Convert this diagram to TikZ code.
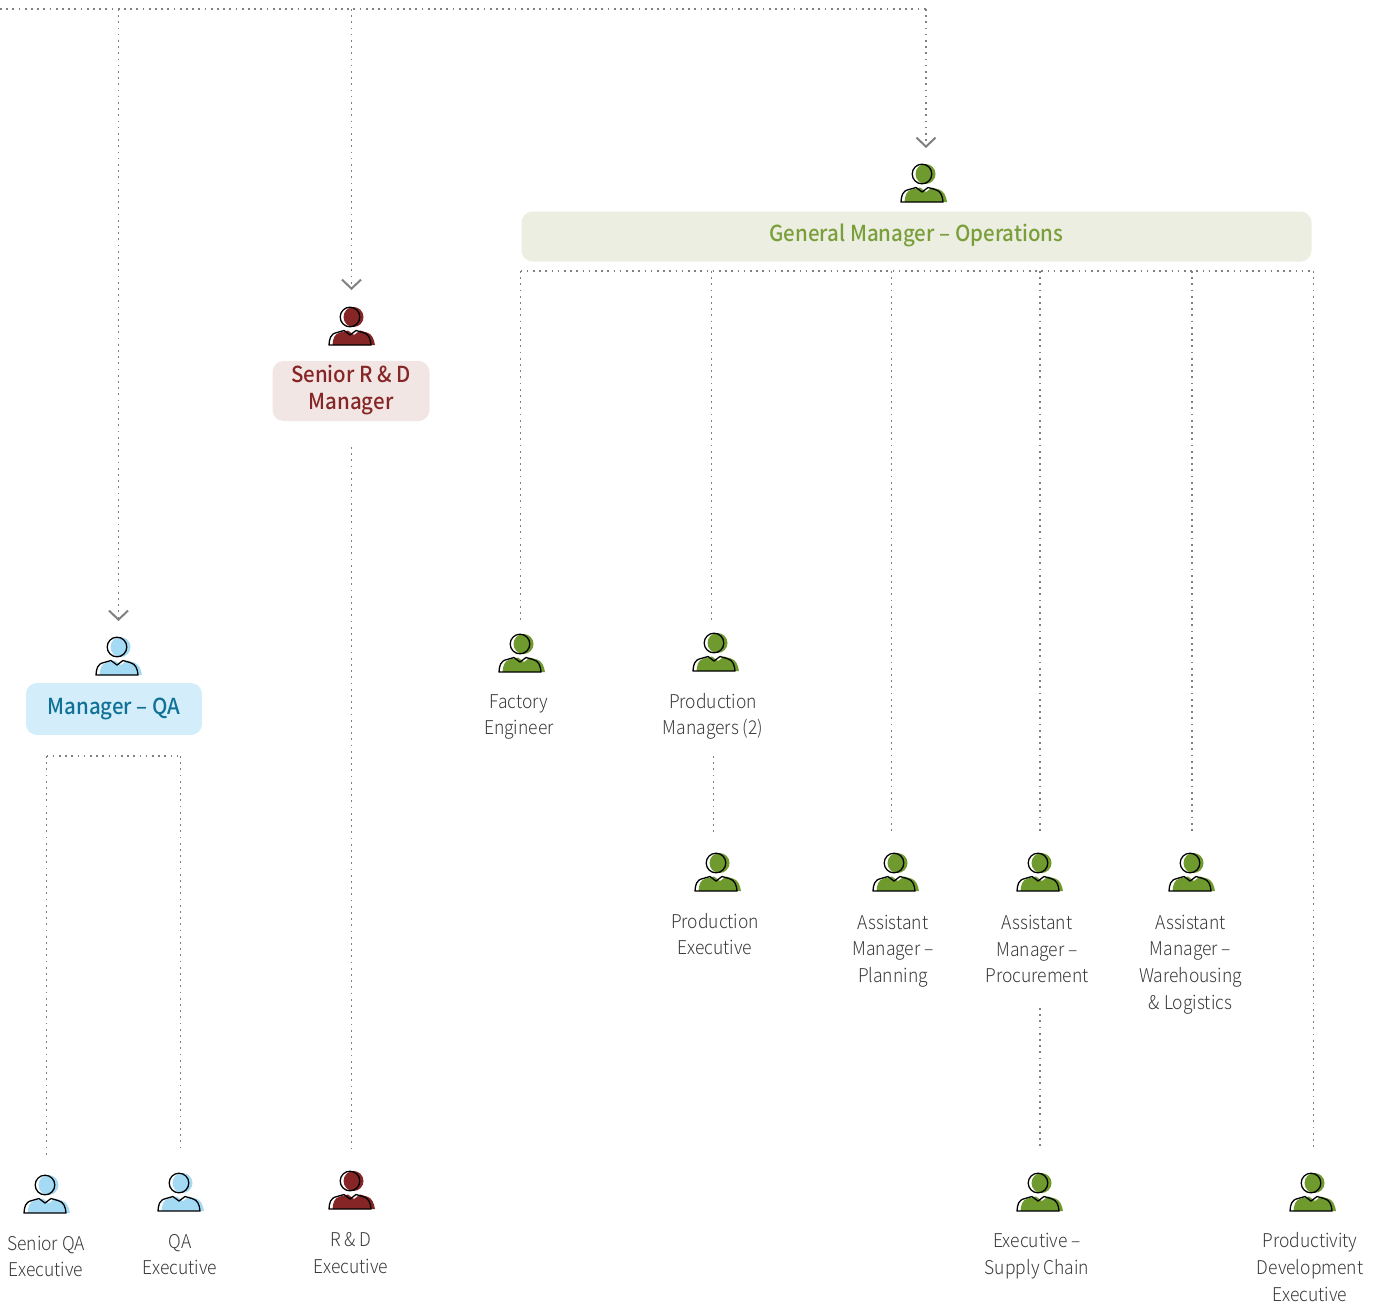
\documentclass[tikz,border=0pt]{standalone}
\usepackage{fontspec}
\setmainfont{Noto Sans CJK SC}
\newfontfamily\lightf[FakeStretch=0.92]{Noto Sans CJK SC Light}
\newfontfamily\medf[FakeStretch=0.93]{Noto Sans CJK SC Medium}
\usetikzlibrary{arrows.meta}
\definecolor{grn}{HTML}{6F9A2E}
\definecolor{grnbg}{HTML}{EBEEE0}
\definecolor{grntx}{HTML}{7A9E3A}
\definecolor{red}{HTML}{862525}
\definecolor{redbg}{HTML}{F2E6E5}
\definecolor{blu}{HTML}{A5DAF5}
\definecolor{blubg}{HTML}{D3EDFB}
\definecolor{blutx}{HTML}{0F7196}
\definecolor{dotc}{HTML}{808080}
\definecolor{txt}{HTML}{3A3A3A}
\tikzset{
 x=1pt,y=-1pt,
 link/.style={draw=dotc,line width=1.7pt,dash pattern=on 1.7pt off 4.5pt},
 tipped/.style={link,-{Straight Barb[length=9pt,width=19pt,line width=2pt,color=dotc,line cap=butt]}},
 person/.pic={
  \fill[#1] (3.5,-28) circle (10);
  \fill[#1] (-17.5,0) .. controls (-17,-6) and (-16,-11) .. (-10,-12.5) -- (-2,-14.5) -- (4,-10) -- (10,-14.5) -- (17,-12.5) .. controls (22,-11) and (24,-6) .. (25,0) -- cycle;
  \draw[black,line width=1.3pt] (0,-28) circle (9.8);
  \draw[black,line width=1.3pt,line join=round] (-21,0) .. controls (-20.5,-6) and (-20,-11) .. (-13,-12.5) -- (-6,-14.5) -- (0,-10) -- (6,-14.5) -- (13,-12.5) .. controls (19,-11) and (20.5,-6) .. (21,0) -- cycle;
 },
 rolebox/.style={rounded corners=11pt,align=center,font=\medf\fontsize{22}{27}\selectfont,inner sep=0pt},
 role/.style={align=center,font=\lightf\fontsize{19}{26.7}\selectfont,text=txt,inner sep=0pt},
}
\newcommand{\roleicon}[4]{\coordinate (#1) at (#2,#3); \pic at (#1) {person=#4};}
\newcommand{\boxtext}[1]{\raisebox{-3pt}{\begin{tabular}[c]{@{}c@{}}#1\end{tabular}}}
\begin{document}
\begin{tikzpicture}
\useasboundingbox (0,0) rectangle (1381,1311);
% boxes
\node[rolebox,fill=grnbg,text=grntx,minimum width=790pt,minimum height=50pt] (gm) at (916.5,236.5) {\boxtext{General Manager – Operations}};
\node[rolebox,fill=redbg,text=red,minimum width=157pt,minimum height=60pt] (rd) at (351,391) {\boxtext{Senior R \& D\\Manager}};
\node[rolebox,fill=blubg,text=blutx,minimum width=176pt,minimum height=52pt] (qa) at (114,709) {\boxtext{Manager – QA}};
% icons
\roleicon{iGM}{922}{202}{grn}
\roleicon{iRD}{350}{345}{red}
\roleicon{iQA}{117}{675}{blu}
\roleicon{iFE}{520}{672}{grn}
\roleicon{iPM}{714}{671}{grn}
\roleicon{iPE}{716}{891}{grn}
\roleicon{iAP}{894}{891}{grn}
\roleicon{iAC}{1038}{891}{grn}
\roleicon{iAW}{1190}{891}{grn}
\roleicon{iSQ}{45}{1213}{blu}
\roleicon{iQE}{179}{1211}{blu}
\roleicon{iRE}{350}{1209}{red}
\roleicon{iSC}{1038}{1211}{grn}
\roleicon{iPD}{1311}{1211}{grn}
% labels
\node[role] (tFE) at (519,717) {Factory\\Engineer};
\node[role] (tPM) at (713,716.5) {Production\\Managers (2)};
\node[role] (tPE) at (715,934) {Production\\Executive};
\node[role] (tAP) at (893,951) {Assistant\\Manager –\\Planning};
\node[role] (tAC) at (1037,949) {Assistant\\Manager –\\Procurement};
\node[role] (tAW) at (1190.5,964.5) {Assistant\\Manager –\\Warehousing\\\& Logistics};
\node[role] (tSQ) at (46,1256.5) {Senior QA\\Executive};
\node[role] (tQE) at (180,1254.5) {QA\\Executive};
\node[role] (tRE) at (351,1253) {R \& D\\Executive};
\node[role] (tSC) at (1037,1256) {Executive –\\Supply Chain};
\node[role] (tPD) at (1310,1267) {Productivity\\Development\\Executive};
% connector waypoints
\coordinate (start) at (0,9);
\coordinate (topGM) at (926,9);
\coordinate (topRD) at (351.5,9);
\coordinate (topQA) at (118.5,9);
\coordinate (aGM) at (926,148);
\coordinate (aRD) at (351.5,290);
\coordinate (aQA) at (118.5,621);
\draw[link] (start) -- (topGM);
\draw[tipped] (topGM) -- (aGM);
\draw[tipped] (topRD) -- (aRD);
\draw[tipped] (topQA) -- (aQA);
% GM branch
\coordinate (b1) at (520.5,271);
\coordinate (b2) at (711.5,271);
\coordinate (b3) at (891.5,271);
\coordinate (b4) at (1040,271);
\coordinate (b5) at (1192,271);
\coordinate (b6) at (1313.5,271);
\coordinate (e1) at (520.5,620);
\coordinate (e2) at (711.5,620);
\coordinate (e3) at (891.5,834);
\coordinate (e4) at (1040,834);
\coordinate (e5) at (1192,834);
\coordinate (e6) at (1313.5,1150);
\draw[link] (b1) -- (b6);
\draw[link] (b1) -- (e1);
\draw[link] (b2) -- (e2);
\draw[link] (b3) -- (e3);
\draw[link] (b4) -- (e4);
\draw[link] (b5) -- (e5);
\draw[link] (b6) -- (e6);
\coordinate (p1) at (713.5,756);
\coordinate (p2) at (713.5,834);
\draw[link] (p1) -- (p2);
\coordinate (c1) at (1040,1008);
\coordinate (c2) at (1040,1150);
\draw[link] (c1) -- (c2);
\coordinate (r1) at (351.5,447);
\coordinate (r2) at (351.5,1150);
\draw[link] (r1) -- (r2);
\coordinate (q1) at (46.5,756);
\coordinate (q2) at (180.5,756);
\coordinate (q3) at (46.5,1157);
\coordinate (q4) at (180.5,1150);
\draw[link] (q1) -- (q2);
\draw[link] (q1) -- (q3);
\draw[link] (q2) -- (q4);
\end{tikzpicture}
\end{document}
